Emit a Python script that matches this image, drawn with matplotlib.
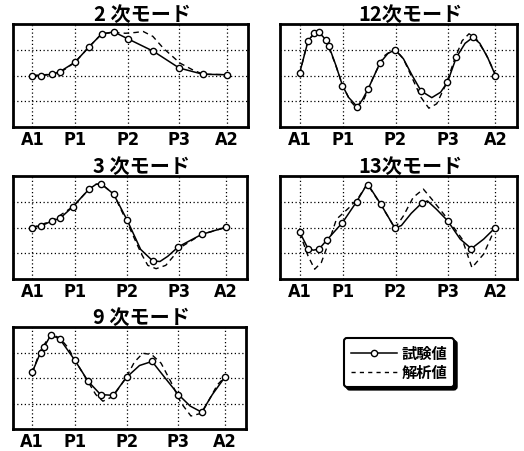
import matplotlib.pyplot as plt
from matplotlib.lines import Line2D
from matplotlib import font_manager

plt.rcParams['font.family'] = ['Noto Sans CJK JP', 'DejaVu Sans']

# tick positions along the span (A1 = 0, A2 = 1)
tick_pos = [0.0, 0.22, 0.49, 0.757, 1.0]
tick_labels = ['A1', 'P1', 'P2', 'P3', 'A2']

# ---- 2次モード ----
m2_test_x = [0, 0.043, 0.099, 0.142, 0.22, 0.29, 0.357, 0.42, 0.49, 0.623, 0.756, 0.877, 1.0]
m2_test_y = [0, -0.01, 0.05, 0.15, 0.52, 1.10, 1.62, 1.69, 1.43, 0.94, 0.29, 0.05, 0.03]
m2_line_x = m2_test_x
m2_line_y = m2_test_y
m2_calc_x = [0, 0.1, 0.15, 0.22, 0.29, 0.357, 0.42, 0.48, 0.53, 0.57, 0.62, 0.674, 0.76, 0.83, 0.88, 1.0]
m2_calc_y = [0, 0.05, 0.15, 0.52, 1.1, 1.62, 1.67, 1.64, 1.67, 1.71, 1.52, 1.06, 0.48, 0.2, 0.05, 0.03]

# ---- 12次モード ----
m12_test_x = [0, 0.043, 0.073, 0.099, 0.133, 0.15, 0.219, 0.294, 0.35, 0.41, 0.487, 0.62, 0.755, 0.80, 0.885, 1.0]
m12_test_y = [0.09, 1.33, 1.65, 1.69, 1.39, 1.13, -0.39, -1.21, -0.52, 0.48, 1.0, -0.60, -0.26, 0.70, 1.48, 0.0]
m12_line_x = [0, 0.043, 0.073, 0.099, 0.133, 0.15, 0.185, 0.219, 0.25, 0.294, 0.32, 0.35, 0.38, 0.41,
              0.45, 0.487, 0.53, 0.575, 0.62, 0.675, 0.72, 0.755, 0.80, 0.845, 0.885, 0.92, 0.96, 1.0]
m12_line_y = [0.09, 1.33, 1.65, 1.69, 1.39, 1.13, 0.40, -0.39, -0.85, -1.21, -0.95, -0.52, -0.02, 0.48,
              0.85, 1.0, 0.65, 0.0, -0.60, -0.86, -0.65, -0.26, 0.70, 1.25, 1.48, 1.25, 0.70, 0.0]
m12_calc_x = [0, 0.04, 0.085, 0.13, 0.18, 0.22, 0.26, 0.29, 0.33, 0.38, 0.43, 0.485, 0.53, 0.575,
              0.62, 0.66, 0.70, 0.75, 0.79, 0.83, 0.865, 0.90, 0.95, 1.0]
m12_calc_y = [0.05, 1.3, 1.72, 1.42, 0.5, -0.4, -1.0, -1.25, -0.9, 0.0, 0.75, 1.05, 0.65, -0.1,
              -0.85, -1.27, -1.1, -0.3, 0.6, 1.35, 1.62, 1.45, 0.85, 0.05]

# ---- 3次モード ----
m3_test_x = [0, 0.045, 0.10, 0.142, 0.21, 0.292, 0.357, 0.42, 0.49, 0.623, 0.755, 0.875, 1.0]
m3_test_y = [0, 0.06, 0.25, 0.35, 0.81, 1.48, 1.69, 1.30, 0.29, -1.30, -0.75, -0.27, 0.01]
m3_line_x = [0, 0.045, 0.10, 0.142, 0.21, 0.292, 0.33, 0.357, 0.42, 0.49, 0.56, 0.623, 0.66, 0.70, 0.755, 0.875, 1.0]
m3_line_y = [0, 0.06, 0.25, 0.35, 0.81, 1.48, 1.68, 1.69, 1.30, 0.29, -0.85, -1.30, -1.32, -1.12, -0.75, -0.27, 0.01]
m3_calc_x = [0, 0.1, 0.21, 0.292, 0.33, 0.357, 0.42, 0.49, 0.563, 0.597, 0.64, 0.69, 0.734, 0.76, 0.875, 1.0]
m3_calc_y = [0, 0.25, 0.81, 1.48, 1.68, 1.69, 1.30, 0.2, -1.01, -1.47, -1.6, -1.47, -1.08, -0.8, -0.27, 0.0]

# ---- 13次モード ----
m13_test_x = [0, 0.043, 0.099, 0.14, 0.219, 0.291, 0.35, 0.414, 0.487, 0.624, 0.756, 0.877, 1.0]
m13_test_y = [-0.17, -0.82, -0.84, -0.48, 0.19, 1.0, 1.66, 0.91, -0.03, 0.95, 0.26, -0.82, 0.0]
m13_line_x = [0, 0.043, 0.07, 0.099, 0.14, 0.219, 0.291, 0.345, 0.35, 0.414, 0.487, 0.52, 0.57,
              0.624, 0.653, 0.70, 0.756, 0.82, 0.877, 0.94, 1.0]
m13_line_y = [-0.17, -0.82, -0.88, -0.84, -0.48, 0.19, 1.0, 1.69, 1.66, 0.91, -0.03, 0.08, 0.55,
              0.95, 1.03, 0.70, 0.26, -0.45, -0.82, -0.45, 0.0]
m13_calc_x = [0, 0.043, 0.077, 0.111, 0.15, 0.188, 0.25, 0.3, 0.345, 0.414, 0.487, 0.53, 0.58,
              0.632, 0.675, 0.756, 0.83, 0.88, 0.94, 1.0]
m13_calc_y = [-0.2, -1.1, -1.62, -1.36, -0.55, 0.32, 0.75, 1.15, 1.69, 0.9, -0.03, 0.45, 1.17,
              1.49, 1.10, 0.33, -0.45, -1.56, -1.03, 0.0]

# ---- 9次モード ----
m9_test_x = [0, 0.043, 0.06, 0.097, 0.143, 0.22, 0.29, 0.355, 0.42, 0.49, 0.622, 0.759, 0.88, 1.0]
m9_test_y = [0.23, 1.0, 1.2, 1.69, 1.53, 0.71, -0.13, -0.65, -0.68, 0.03, 0.65, -0.65, -1.34, 0.03]
m9_line_x = [0, 0.043, 0.06, 0.097, 0.143, 0.22, 0.29, 0.355, 0.42, 0.49, 0.557, 0.622, 0.69, 0.759, 0.82, 0.88, 0.935, 1.0]
m9_line_y = [0.23, 1.0, 1.2, 1.69, 1.53, 0.71, -0.13, -0.65, -0.68, 0.03, 0.49, 0.65, 0.0, -0.65, -1.1, -1.34, -0.65, 0.03]
m9_calc_x = [0, 0.04, 0.097, 0.143, 0.186, 0.22, 0.29, 0.33, 0.367, 0.42, 0.49, 0.53, 0.574, 0.62,
             0.669, 0.72, 0.772, 0.824, 0.88, 0.962, 1.0]
m9_calc_y = [0.2, 1.05, 1.72, 1.57, 1.19, 0.72, -0.15, -0.65, -0.91, -0.72, 0.05, 0.62, 0.97, 0.92,
             0.58, -0.15, -0.97, -1.49, -1.38, -0.26, 0.03]

panels = [
    ('2 次モード', [13, 25, 235, 103], m2_test_x, m2_test_y, m2_line_x, m2_line_y, m2_calc_x, m2_calc_y),
    ('12次モード', [280, 25, 237, 103], m12_test_x, m12_test_y, m12_line_x, m12_line_y, m12_calc_x, m12_calc_y),
    ('3 次モード', [13, 177, 234, 103], m3_test_x, m3_test_y, m3_line_x, m3_line_y, m3_calc_x, m3_calc_y),
    ('13次モード', [280, 177, 237, 103], m13_test_x, m13_test_y, m13_line_x, m13_line_y, m13_calc_x, m13_calc_y),
    ('9 次モード', [13, 328, 233, 102], m9_test_x, m9_test_y, m9_line_x, m9_line_y, m9_calc_x, m9_calc_y),
]

# narrow face for the span labels, if one is installed
names = {f.name for f in font_manager.fontManager.ttflist}
narrow = [n for n in ['Liberation Sans Narrow', 'DejaVu Sans Condensed'] if n in names]
tick_family = narrow[:1] + ['DejaVu Sans']

W, H = 524, 452
fig = plt.figure(figsize=(W / 100, H / 100), dpi=100)

for title, (px, py, pw, ph), tx, ty, lx, ly, cx, cy in panels:
    ax = fig.add_axes([px / W, 1 - (py + ph) / H, pw / W, ph / H])
    ax.plot(cx, cy, color='black', lw=1.0, ls=(0, (4, 3)))
    ax.plot(lx, ly, color='black', lw=1.1)
    ax.plot(tx, ty, ls='none', marker='o', ms=4.5, mfc='white', mec='black', mew=1.0)
    ax.set_xlim(-0.1, 1.11)
    ax.set_ylim(-2, 2)
    ax.set_xticks(tick_pos)
    ax.set_xticklabels(tick_labels, family=tick_family, stretch='condensed',
                       fontsize=13, fontweight='bold')
    ax.set_yticks([-1, 0, 1])
    ax.set_yticklabels([])
    ax.tick_params(length=0, pad=2)
    ax.grid(True, color='black', ls=(0, (1, 2)), lw=0.9)
    for s in ax.spines.values():
        s.set_linewidth(2)
    ax.set_title(title, fontsize=14.5, fontweight='bold', pad=2, x=0.55)

handles = [Line2D([], [], color='black', lw=1.1, marker='o', ms=4.5, mfc='white', mec='black'),
           Line2D([], [], color='black', lw=1.0, ls=(0, (3, 3)))]
fig.legend(handles, ['試験値', '解析値'], loc='upper left', bbox_to_anchor=(344 / W, 1 - 339 / H),
           borderaxespad=0, prop={'size': 11, 'weight': 'bold'}, numpoints=1, handlelength=3.0,
           fancybox=True, edgecolor='black', framealpha=1, borderpad=0.45, labelspacing=0.2,
           handletextpad=0.3, shadow={'color': 'black', 'alpha': 1})
fig.legends[0].get_frame().set_linewidth(1.5)

fig.savefig('out.png', dpi=100)
